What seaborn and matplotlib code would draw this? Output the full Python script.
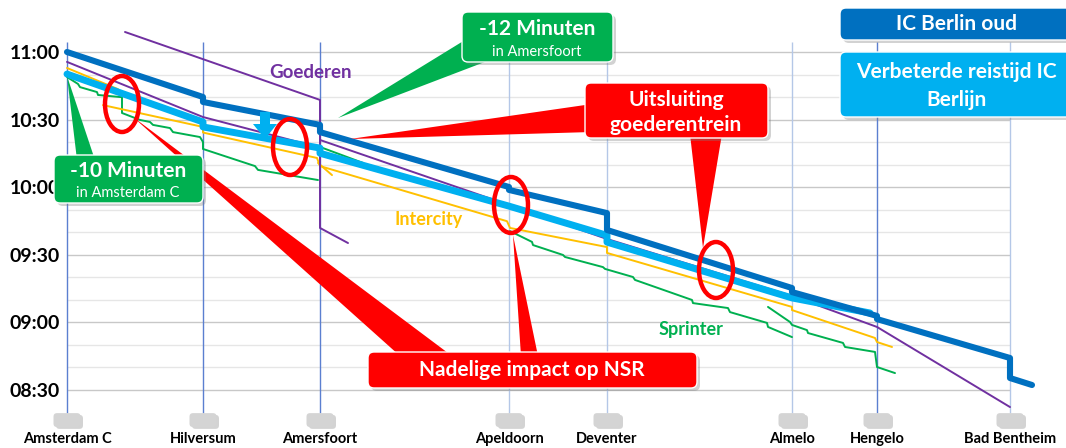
import matplotlib
matplotlib.use("Agg")
import matplotlib.pyplot as plt
from matplotlib.patches import FancyBboxPatch, Polygon, Ellipse
from matplotlib.ticker import FuncFormatter
import seaborn as sns

# stations, km from Amsterdam C
stations = ["Amsterdam C", "Hilversum", "Amersfoort", "Apeldoorn", "Deventer",
            "Almelo", "Hengelo", "Bad Bentheim"]
station_km = [0, 27.2, 50.6, 88.4, 108, 145, 162, 188.6]
station_dark = [True, True, True, False, False, False, True, False]

# times in minutes after midnight
ic_oud_km = [0, 27.2, 27.2, 50.6, 50.6, 88.4, 88.4, 108, 108, 145, 145, 162, 162, 188.6, 188.6, 193]
ic_oud_t = [660, 640, 637.8, 627.6, 624.4, 600, 598.7, 588.4, 580.9, 555.1, 553.3, 542.7, 541.3, 524, 515.1, 512]

ic_new_km = [0, 27.2, 27.2, 50.6, 50.6, 88.4, 108, 108, 145, 160.6]
ic_new_t = [650.2, 628.9, 626.7, 617.3, 615, 591.5, 578.5, 575.5, 550.7, 544]

goods_top_km = [11.6, 50.6, 50.6, 56.2]
goods_top_t = [668.9, 638.7, 581.8, 575.1]
goods_a_km = [0, 27.2, 50.6]
goods_a_t = [655.6, 631.1, 617.5]
goods_b_km = [50.6, 88.4, 108, 145, 162, 188.6]
goods_b_t = [620.9, 592.0, 576.9, 551.6, 537.8, 502.2]

ic_a_km = [0, 10.2]
ic_a_t = [652.9, 643.5]
ic_b_km = [7.2, 27.2, 27.2, 50, 50.6, 88, 88.6, 108, 108, 145, 145, 161.6, 162, 165]
ic_b_t = [636.4, 626.7, 624.2, 612.9, 609.3, 584.8, 581.8, 573.3, 570.7, 546.7, 545.3, 532.9, 531.1, 528.9]
ic_stub_km = [50.2, 53]
ic_stub_t = [610.7, 605.3]

spr_a_km = [0, 2.2, 2.6, 6, 6.2, 10.6, 11, 11, 14.6, 16.6, 17.2, 20.6, 21.2, 26.6, 27.2, 27.2, 37.6, 38.2, 50.2]
spr_a_t = [648.9, 645.8, 644.4, 642.2, 640.9, 640, 640, 632.9, 629.8, 628.9, 627.6, 626.2, 624.4, 622.2, 620, 616.9, 609.3, 607.6, 603.1]
spr_b_km = [50.6, 59.2]
spr_b_t = [617.8, 610.7]
spr_c_km = [88.6, 93, 93.2, 99.2, 99.6, 107.2, 107.6, 113.2, 113.6, 125, 125.2, 132.2, 132.6, 140, 140.2, 145]
spr_c_t = [580.4, 575.6, 574.2, 569.8, 568.9, 564.4, 563.6, 560, 558.7, 549.8, 548.4, 546.2, 544.4, 539.6, 537.8, 533.3]
spr_d_km = [140.2, 144.6, 145, 148, 148.2, 155.2, 155.6, 161.6, 162, 165.6]
spr_d_t = [546.7, 540, 538.7, 536.4, 535.1, 530.7, 528.9, 526.7, 520, 517.3]

y_ticks = [510, 540, 570, 600, 630, 660]
grid_t = list(range(510, 661, 10))

DARK = "#0070C0"
LIGHT = "#00B0F0"
PURPLE = "#7030A0"
ORANGE = "#FFC000"
GREEN = "#00B050"
RED = "#FF0000"

sns.set_theme(style="white")
plt.rcParams["font.family"] = ["Lato", "DejaVu Sans"]

fig = plt.figure(figsize=(10.66, 4.48), dpi=100)
ax = fig.add_axes([62 / 1066, 18 / 448, 983 / 1066, 402 / 448])
ax.set_xlim(-1, 195.6)
ax.set_ylim(492, 670.67)

# grid
for t in grid_t:
    c = "#C8C8C8" if t % 30 == 0 else "#E6E6E6"
    ax.hlines(t, 0, station_km[-1], colors=c, lw=1, zorder=0)
for km, dark in zip(station_km, station_dark):
    ax.vlines(km, 499.6, 664.4, colors="#5B7FD0" if dark else "#B4C7E7", lw=1.0, zorder=1)
    ax.add_patch(FancyBboxPatch((km - 2.2, 496.4 - 3.9), 5.4, 6.2,
                                boxstyle="round,pad=0,rounding_size=0.7", mutation_aspect=2.22,
                                fc="#A8A8A8", ec="none", alpha=0.5, clip_on=False, zorder=1))
    ax.add_patch(FancyBboxPatch((km - 2.7, 496.4 - 3.1), 5.4, 6.2,
                                boxstyle="round,pad=0,rounding_size=0.7", mutation_aspect=2.22,
                                fc="#D4D4D4", ec="none", clip_on=False, zorder=2))

def draw(xs, ts, color, lw, z):
    sns.lineplot(x=xs, y=ts, sort=False, estimator=None, color=color, lw=lw, ax=ax, zorder=z)

draw(spr_a_km, spr_a_t, GREEN, 1.4, 3)
draw(spr_b_km, spr_b_t, GREEN, 1.4, 3)
draw(spr_c_km, spr_c_t, GREEN, 1.4, 3)
draw(spr_d_km, spr_d_t, GREEN, 1.4, 3)
draw(ic_a_km, ic_a_t, ORANGE, 1.4, 3)
draw(ic_b_km, ic_b_t, ORANGE, 1.4, 3)
draw(ic_stub_km, ic_stub_t, ORANGE, 1.4, 3)
draw(goods_top_km, goods_top_t, PURPLE, 1.4, 3)
draw(goods_a_km, goods_a_t, PURPLE, 1.4, 3)
draw(goods_b_km, goods_b_t, PURPLE, 1.4, 3)
draw(ic_new_km, ic_new_t, LIGHT, 5.0, 4)
draw(ic_oud_km, ic_oud_t, DARK, 4.4, 5)

ax.set_yticks(y_ticks)
ax.yaxis.set_major_formatter(FuncFormatter(lambda v, _: f"{int(v // 60):02d}:{int(v % 60):02d}"))
ax.set_xticks(station_km)
ax.set_xticklabels(stations)
ax.tick_params(axis="y", length=0, pad=1.5, labelsize=14, labelcolor="black")
ax.tick_params(axis="x", length=0, pad=1.5, labelsize=10.5, labelcolor="black")
for lab in ax.get_xticklabels() + ax.get_yticklabels():
    lab.set_fontweight("bold")
ax.set_xlabel("")
ax.set_ylabel("")
for s in ax.spines.values():
    s.set_visible(False)
ax.grid(False)

# overlay for callouts, in pixel coordinates
ov = fig.add_axes([0, 0, 1, 1], zorder=5)
ov.set_xlim(0, 1066)
ov.set_ylim(448, 0)
ov.axis("off")
ov.patch.set_alpha(0)

def box(x0, y0, x1, y1, color, r=6):
    ov.add_patch(FancyBboxPatch((x0 + 3, y0 + 3), x1 - x0, y1 - y0, boxstyle=f"round,pad=0,rounding_size={r}",
                                fc="#7F7F7F", ec="none", alpha=0.35, zorder=3))
    ov.add_patch(FancyBboxPatch((x0, y0), x1 - x0, y1 - y0, boxstyle=f"round,pad=0,rounding_size={r}",
                                fc=color, ec="white", lw=1, zorder=4))

def wedge(pts, color):
    ov.add_patch(Polygon(pts, closed=True, fc=color, ec="none", zorder=2))

# wedges
wedge([(338, 118), (465, 40), (490, 60)], GREEN)
wedge([(350, 139), (592, 104), (592, 132)], RED)
wedge([(690, 134), (722, 134), (703, 248)], RED)
wedge([(133, 117), (400, 356), (452, 356)], RED)
wedge([(513, 235), (521, 356), (538, 356)], RED)
wedge([(67, 76), (77, 160), (95, 160)], GREEN)

# ellipses
for cx, cy in [(122, 104), (290, 147), (511, 205), (716, 270)]:
    ov.add_patch(Ellipse((cx, cy), 34, 56, fill=False, ec=RED, lw=3.2, zorder=6))

# arrow
ov.add_patch(Polygon([(260, 112), (270, 112), (270, 124), (277, 124), (265, 139), (253, 124), (260, 124)],
                     closed=True, fc=LIGHT, ec="none", zorder=6))

# boxes with text
box(462, 12, 613, 62, GREEN)
ov.text(537, 29, "-12 Minuten", color="white", fontsize=15, fontweight="bold", ha="center", va="center", zorder=7)
ov.text(537, 52, "in Amersfoort", color="white", fontsize=10.5, ha="center", va="center", zorder=7)

box(585, 83, 768, 138, RED)
ov.text(676, 100, "Uitsluiting", color="white", fontsize=15, fontweight="bold", ha="center", va="center", zorder=7)
ov.text(676, 125, "goederentrein", color="white", fontsize=15, fontweight="bold", ha="center", va="center", zorder=7)

box(368, 352, 697, 388, RED)
ov.text(532, 370, "Nadelige impact op NSR", color="white", fontsize=15, fontweight="bold", ha="center", va="center", zorder=7)

box(54, 155, 203, 203, GREEN)
ov.text(128, 171, "-10 Minuten", color="white", fontsize=15, fontweight="bold", ha="center", va="center", zorder=7)
ov.text(128, 193, "in Amsterdam C", color="white", fontsize=10.5, ha="center", va="center", zorder=7)

box(840, 8, 1075, 40, DARK)
ov.text(956, 24, "IC Berlin oud", color="white", fontsize=15, fontweight="bold", ha="center", va="center", zorder=7)
box(840, 52, 1075, 117, LIGHT)
ov.text(956, 72, "Verbeterde reistijd IC", color="white", fontsize=15, fontweight="bold", ha="center", va="center", zorder=7)
ov.text(956, 100, "Berlijn", color="white", fontsize=15, fontweight="bold", ha="center", va="center", zorder=7)

# series labels
ov.text(310, 73, "Goederen", color=PURPLE, fontsize=13.5, fontweight="bold", ha="center", va="center", zorder=7)
ov.text(429, 220, "Intercity", color=ORANGE, fontsize=13, fontweight="bold", ha="center", va="center", zorder=7)
ov.text(691, 330, "Sprinter", color=GREEN, fontsize=13, fontweight="bold", ha="center", va="center", zorder=7)

fig.savefig("out.png", dpi=100)
